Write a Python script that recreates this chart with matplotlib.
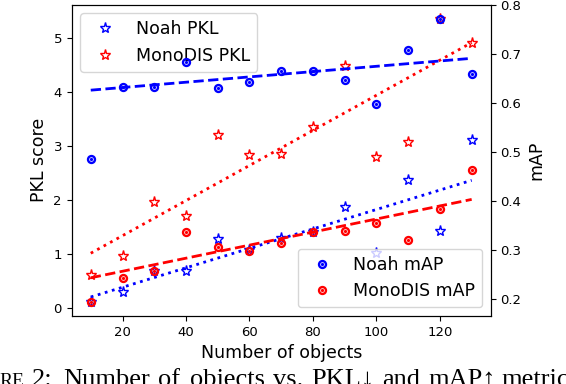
import matplotlib
matplotlib.use('Agg')
import matplotlib.pyplot as plt

objects = [10, 20, 30, 40, 50, 60, 70, 80, 90, 100, 110, 120, 130]
noah_pkl = [0.12, 0.31, 0.69, 0.69, 1.28, 1.08, 1.30, 1.41, 1.88, 1.02, 2.38, 1.43, 3.11]
monodis_pkl = [0.62, 0.97, 1.97, 1.71, 3.21, 2.83, 2.85, 3.36, 4.48, 2.80, 3.08, 5.36, 4.92]
noah_map = [0.486, 0.633, 0.633, 0.684, 0.631, 0.644, 0.667, 0.666, 0.648, 0.599, 0.710, 0.773, 0.661]
monodis_map = [0.195, 0.244, 0.258, 0.337, 0.306, 0.299, 0.316, 0.337, 0.340, 0.356, 0.322, 0.384, 0.464]

trend_x = [10, 130]
noah_pkl_trend = [0.21, 2.37]
monodis_pkl_trend = [1.02, 4.92]
noah_map_trend = [0.627, 0.692]
monodis_map_trend = [0.244, 0.404]

pkl_ticks = [0, 1, 2, 3, 4, 5]
map_ticks = [0.2, 0.3, 0.4, 0.5, 0.6, 0.7, 0.8]
x_ticks = [20, 40, 60, 80, 100, 120]

caption_words = ['2:', 'Number', 'of', 'objects', 'vs.', 'PKL\u2193', 'and', 'mAP\u2191', 'metric']
caption_x_px = [32, 63, 158, 190, 273, 311, 382, 428, 501]

W, H = 566, 384
fig = plt.figure(figsize=(W / 100, H / 100), dpi=100)
ax1 = fig.add_axes([0.1267, 0.1771, 0.7403, 0.8107])

ax1.plot(objects, noah_pkl, linestyle='none', marker='*', ms=8, mfc='none',
         mec='blue', mew=1.0, label='Noah PKL')
ax1.plot(objects, monodis_pkl, linestyle='none', marker='*', ms=8, mfc='none',
         mec='red', mew=1.0, label='MonoDIS PKL')
ax1.plot(trend_x, noah_pkl_trend, color='blue', linestyle=':', lw=2)
ax1.plot(trend_x, monodis_pkl_trend, color='red', linestyle=':', lw=2)

ax1.set_xlim(4, 136)
ax1.set_ylim(-0.142, 5.622)
ax1.set_xticks(x_ticks)
ax1.set_yticks(pkl_ticks)
ax1.tick_params(labelsize=9.5)
ax1.set_xlabel('Number of objects', fontsize=12.5, labelpad=4)
ax1.set_ylabel('PKL score', fontsize=12.5)
ax1.legend(loc='upper left', fontsize=12.5)

ax2 = ax1.twinx()
r1, = ax2.plot(objects, noah_map, linestyle='none', marker='o', ms=5, mfc='none',
               mec='blue', mew=1.7)
d1, = ax2.plot(objects, noah_map, linestyle='none', marker='o', ms=2.3, mfc='blue',
               mec='blue', mew=0)
r2, = ax2.plot(objects, monodis_map, linestyle='none', marker='o', ms=5, mfc='none',
               mec='red', mew=1.7)
d2, = ax2.plot(objects, monodis_map, linestyle='none', marker='o', ms=2.3, mfc='red',
               mec='red', mew=0)
ax2.plot(trend_x, noah_map_trend, color='blue', linestyle='--', lw=2)
ax2.plot(trend_x, monodis_map_trend, color='red', linestyle='--', lw=2)
ax2.set_ylim(0.166, 0.8015)
ax2.set_yticks(map_ticks)
ax2.tick_params(labelsize=9.5)
ax2.set_ylabel('mAP', fontsize=12.5)
ax2.legend(handles=[(r1, d1), (r2, d2)], labels=['Noah mAP', 'MonoDIS mAP'],
           loc='lower right', fontsize=12.5)

serif = ['Liberation Serif', 'DejaVu Serif']
base_y = -0.006
fig.text(-0.001, base_y, 'RE', fontsize=14, family=serif, ha='left', va='baseline')
for word, xp in zip(caption_words, caption_x_px):
    fig.text(xp / W, base_y, word, fontsize=19, family=serif, ha='left', va='baseline')

fig.savefig('out.png', dpi=100)
